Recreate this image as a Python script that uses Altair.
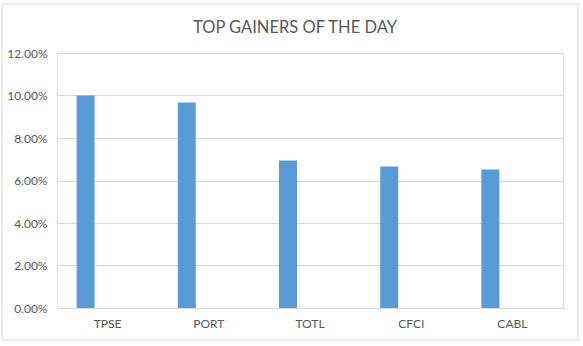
import altair as alt
import pandas as pd

tickers = ["TPSE", "PORT", "TOTL", "CFCI", "CABL"]
gains = [0.1000, 0.0967, 0.0694, 0.0666, 0.0652]

df = pd.DataFrame({"ticker": tickers, "gain": gains})

FONT = "Lato"
TXT = "#595959"
GRID = "#D9D9D9"

bars = alt.Chart(df).mark_bar(color="#5B9BD5", width=18, xOffset=-22).encode(
    x=alt.X("ticker:N", sort=tickers, title=None,
            scale=alt.Scale(paddingInner=0, paddingOuter=0),
            axis=alt.Axis(labelAngle=0, ticks=False, domainColor=GRID,
                          labelColor=TXT, labelFont=FONT, labelFontSize=12,
                          labelPadding=10)),
    y=alt.Y("gain:Q", title=None,
            scale=alt.Scale(domain=[0, 0.12]),
            axis=alt.Axis(format=".2%", values=[0, 0.02, 0.04, 0.06, 0.08, 0.10, 0.12],
                          ticks=False, domain=False, gridColor=GRID,
                          labelColor=TXT, labelFont=FONT, labelFontSize=12,
                          labelPadding=10)),
)

border = alt.Chart(pd.DataFrame({"a": [0]})).mark_rect(
    fill=None, stroke=GRID, strokeWidth=1
).encode(
    x=alt.value(-55), x2=alt.value(521), y=alt.value(-49), y2=alt.value(287)
)

chart = alt.layer(bars, border).properties(
    width=506, height=255,
    padding={"left": 57, "top": 53, "right": 20, "bottom": 38},
    autosize=alt.AutoSizeParams(type="none"),
    title=alt.TitleParams("TOP GAINERS OF THE DAY", font=FONT, fontSize=16.5,
                          fontWeight="normal", color=TXT, anchor="middle",
                          baseline="alphabetic", dx=-15, offset=-46),
).configure_view(stroke=None).configure(background="white")

chart.save("out.html", embed_options={"renderer": "svg", "actions": False})
